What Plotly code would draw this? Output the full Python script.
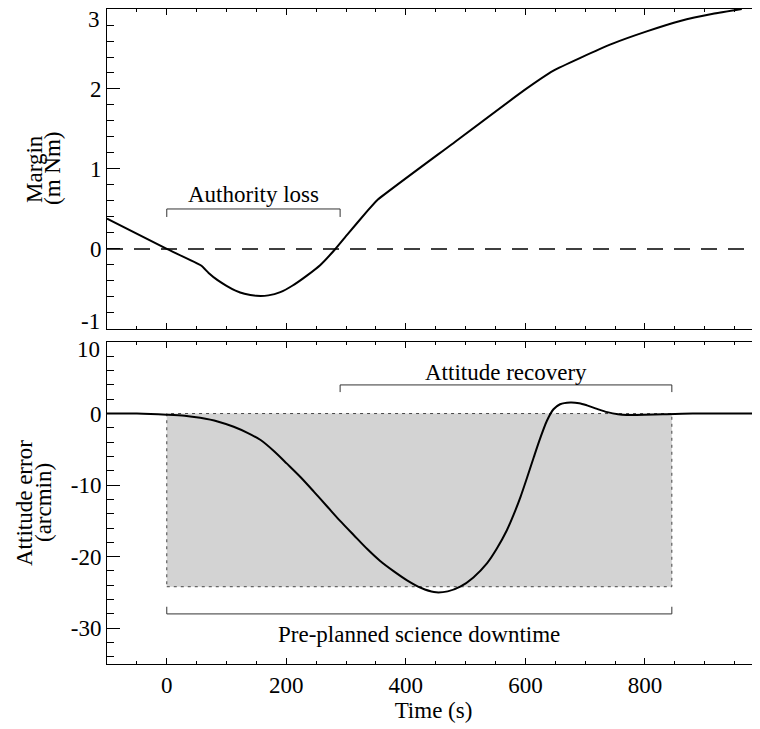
import plotly.graph_objects as go

# ---------------- data ----------------
# Top panel: control torque margin (m Nm) vs time (s)
margin_time = [-100, 0, 58, 70, 85, 100, 115, 130, 150, 170, 190, 210, 235, 257, 282,
               302, 335, 352, 477, 597, 647, 692, 747, 803, 859, 914, 962]
margin_value = [0.38, 0.0, -0.21, -0.30, -0.39, -0.46, -0.52, -0.56, -0.585, -0.58, -0.54,
                -0.46, -0.33, -0.20, 0.0, 0.18, 0.47, 0.61, 1.31, 1.98, 2.23, 2.39, 2.57,
                2.72, 2.85, 2.94, 3.0]

# Bottom panel: attitude error (arcmin) vs time (s)
att_time = [-100, -50, 0, 30, 56, 85, 112, 135, 157, 180, 201, 224, 246, 268, 290, 313,
            335, 357, 380, 402, 425, 447, 470, 491, 513, 536, 552, 569, 580, 592, 603, 614,
            625, 636, 647, 658, 675, 690, 703, 720, 737, 755, 769, 800, 830, 880, 1000]
att_value = [0.0, 0.0, -0.15, -0.3, -0.6, -1.1, -1.85, -2.7, -3.7, -5.3, -7.0, -8.9, -10.9,
             -12.95, -15.0, -17.0, -18.9, -20.6, -22.05, -23.3, -24.35, -24.95, -24.85,
             -24.2, -22.9, -20.9, -18.9, -16.3, -14.2, -11.6, -8.9, -6.1, -3.4, -1.0, 0.6,
             1.3, 1.55, 1.45, 1.15, 0.65, 0.2, -0.1, -0.2, -0.18, -0.1, 0.0, 0.0]

# Annotated intervals (s) and levels
authority_loss = (0, 290)          # top panel bracket
authority_level = (0.4, 0.5)
recovery = (290, 845)              # bottom panel bracket
recovery_level = (3, 4)
downtime = (0, 845)
downtime_level = (-27, -28)
downtime_box = (-24.2, 0)          # shaded region y-extent

x_range = [-100, 992.5]
top_range = [-1, 3]
bot_range = [-35, 10]
top_ticks = [-1, 0, 1, 2, 3]
bot_ticks = [-30, -20, -10, 0, 10]
x_ticks = [0, 200, 400, 600, 800]

FONT = "Liberation Serif"
FS = 23
INK = "black"

fig = go.Figure()

fig.add_trace(go.Scatter(x=margin_time, y=margin_value, mode="lines",
                         line=dict(color=INK, width=2, shape="spline", smoothing=0.4),
                         xaxis="x", yaxis="y", showlegend=False, hoverinfo="skip"))
fig.add_trace(go.Scatter(x=att_time, y=att_value, mode="lines",
                         line=dict(color=INK, width=2, shape="spline", smoothing=0.8),
                         xaxis="x2", yaxis="y2", showlegend=False, hoverinfo="skip"))
# empty traces so the right-hand tick overlays exist
fig.add_trace(go.Scatter(x=[None], y=[None], xaxis="x", yaxis="y3", showlegend=False))
fig.add_trace(go.Scatter(x=[None], y=[None], xaxis="x2", yaxis="y4", showlegend=False))

shapes = []
# shaded downtime box
shapes.append(dict(type="rect", xref="x2", yref="y2", x0=downtime[0], x1=downtime[1],
                   y0=downtime_box[0], y1=downtime_box[1], fillcolor="#d3d3d3",
                   line=dict(color="#444", width=1, dash="3px,4px"), layer="below"))
# dashed zero line (top)
shapes.append(dict(type="line", xref="x domain", yref="y", x0=0, x1=1, y0=0, y1=0,
                   line=dict(color=INK, width=1.3, dash="16px,11px")))


def bracket(xr, xa, ya, lv):
    lo, hi = lv
    return dict(type="path", xref=xa, yref=ya,
                path=f"M {xr[0]},{lo} L {xr[0]},{hi} L {xr[1]},{hi} L {xr[1]},{lo}",
                line=dict(color="#333", width=1))


shapes.append(bracket(authority_loss, "x", "y", authority_level))
shapes.append(bracket(recovery, "x2", "y2", recovery_level))
shapes.append(bracket(downtime, "x2", "y2", downtime_level))

tfont = dict(family=FONT, size=FS, color=INK)
annotations = [
    dict(text="Authority loss", x=sum(authority_loss) / 2, y=0.68, xref="x", yref="y",
         showarrow=False, font=tfont),
    dict(text="Attitude recovery", x=sum(recovery) / 2, y=5.8, xref="x2", yref="y2",
         showarrow=False, font=tfont),
    dict(text="Pre-planned science downtime", x=sum(downtime) / 2, y=-30.9, xref="x2",
         yref="y2", showarrow=False, font=tfont),
    # end tick labels, nudged inward as in the original
    dict(text="3", x=0, xref="paper", y=3, yref="y", yshift=-10, xanchor="right",
         xshift=-5, showarrow=False, font=tfont),
    dict(text="-1", x=0, xref="paper", y=-1, yref="y", yshift=7, xanchor="right",
         xshift=-5, showarrow=False, font=tfont),
    dict(text="10", x=0, xref="paper", y=10, yref="y2", yshift=-7, xanchor="right",
         xshift=-5, showarrow=False, font=tfont),
    # y-axis titles (two tightly spaced rotated lines)
    dict(text="Margin", x=0, xref="paper", xshift=-72, y=0.5, yref="y domain",
         xanchor="center", yanchor="middle", textangle=-90, showarrow=False, font=tfont),
    dict(text="(m Nm)", x=0, xref="paper", xshift=-54, y=0.5, yref="y domain",
         xanchor="center", yanchor="middle", textangle=-90, showarrow=False, font=tfont),
    dict(text="Attitude error", x=0, xref="paper", xshift=-83, y=0.5, yref="y2 domain",
         xanchor="center", yanchor="middle", textangle=-90, showarrow=False, font=tfont),
    dict(text="(arcmin)", x=0, xref="paper", xshift=-64, y=0.5, yref="y2 domain",
         xanchor="center", yanchor="middle", textangle=-90, showarrow=False, font=tfont),
]

xcommon = dict(range=x_range, showline=True, linecolor=INK, linewidth=1, mirror="ticks",
               ticks="inside", ticklen=6, tickwidth=1, tickcolor=INK,
               tickmode="array", tickvals=x_ticks,
               minor=dict(ticks="inside", ticklen=3, dtick=50, tick0=0, tickcolor=INK),
               showgrid=False, zeroline=False, tickfont=tfont)
ycommon = dict(showline=True, linecolor=INK, linewidth=1, mirror=False,
               ticks="inside", ticklen=13, tickwidth=1, tickcolor=INK,
               showgrid=False, zeroline=False, tickfont=tfont, tickmode="array")
ovl = dict(showline=False, ticks="inside", ticklen=8, tickwidth=1, tickcolor=INK,
           showgrid=False, zeroline=False, showticklabels=False, side="right",
           tickmode="array")

# page has an 8px body margin: figure spans page x 8..760, y 8..729
fig.update_layout(
    width=752, height=721,
    margin=dict(l=99, r=0, t=1, b=65),
    paper_bgcolor="white", plot_bgcolor="white",
    font=tfont,
    xaxis=dict(xcommon, domain=[0, 1], anchor="y", showticklabels=False),
    yaxis=dict(ycommon, domain=[0.5115, 1], anchor="x", range=top_range,
               tickvals=top_ticks, ticktext=["", "0", "1", "2", ""],
               minor=dict(ticks="inside", ticklen=7, dtick=0.2, tick0=0, tickcolor=INK)),
    yaxis3=dict(ovl, overlaying="y", anchor="x", range=top_range, tickvals=top_ticks,
                minor=dict(ticks="inside", ticklen=3, dtick=0.2, tick0=0, tickcolor=INK)),
    xaxis2=dict(xcommon, domain=[0, 1], anchor="y2",
                ticktext=[str(v) for v in x_ticks],
                title=dict(text="Time (s)", font=tfont, standoff=2)),
    yaxis2=dict(ycommon, domain=[0, 0.4916], anchor="x2", range=bot_range,
                tickvals=bot_ticks, ticktext=["-30", "-20", "-10", "0", ""],
                minor=dict(ticks="inside", ticklen=7, dtick=2, tick0=0, tickcolor=INK)),
    yaxis4=dict(ovl, overlaying="y2", anchor="x2", range=bot_range, tickvals=bot_ticks,
                minor=dict(ticks="inside", ticklen=3, dtick=2, tick0=0, tickcolor=INK)),
    shapes=shapes, annotations=annotations,
)

fig.write_html("out.html")
